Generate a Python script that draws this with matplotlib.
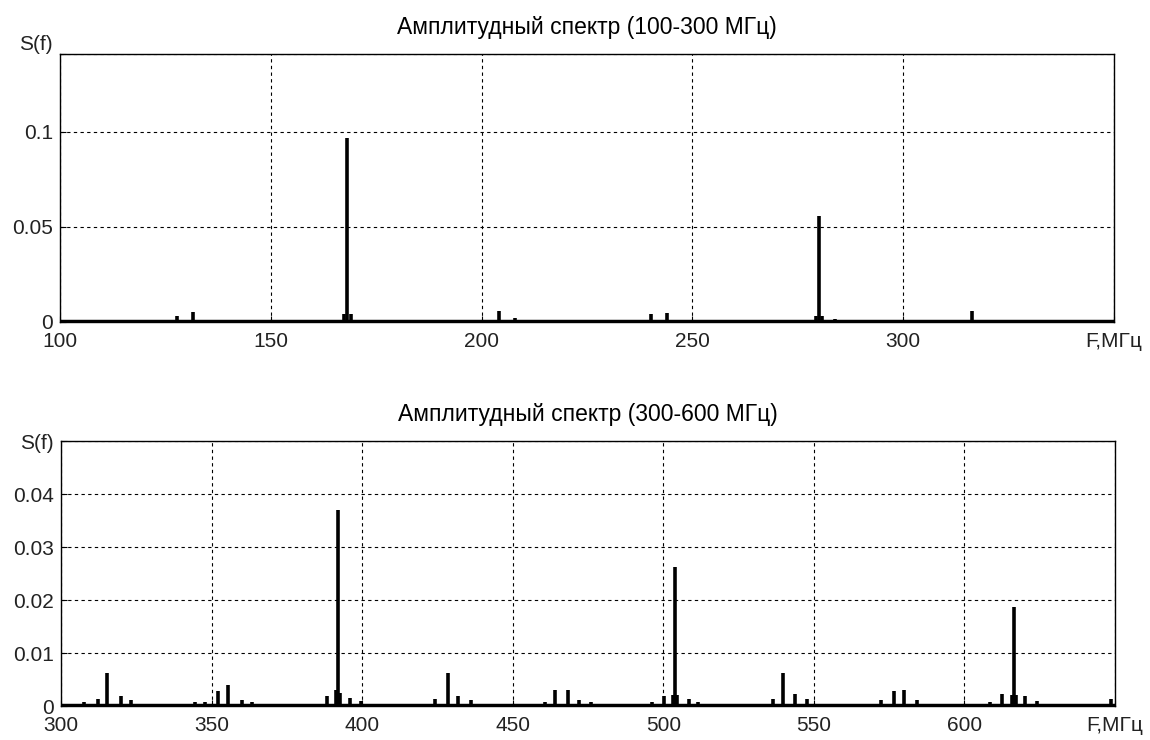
#!/usr/bin/env python3
"""Amplitude spectrum of the signal in two frequency bands."""

import matplotlib
matplotlib.use('Agg')
import matplotlib.pyplot as plt

plt.rcParams['font.family'] = ['Liberation Sans', 'DejaVu Sans']

# Band 1: 100-300 MHz, spectral lines (MHz) and amplitudes
freq_low = [127.8, 131.6, 167.3, 168.1, 168.9, 204.2, 208.0, 211.7,
            240.2, 244.0, 279.4, 280.1, 280.8, 283.9, 316.4]
amp_low = [0.0030, 0.0055, 0.004, 0.097, 0.004, 0.006, 0.002, 0.0012,
           0.0040, 0.0045, 0.003, 0.056, 0.003, 0.0015, 0.006]

# Band 2: 300-600 MHz
freq_high = [307.7, 312.2, 315.4, 319.8, 323.3, 344.5, 347.8, 352.2, 355.6,
             360.0, 363.3, 388.3, 391.4, 392.1, 392.8, 396.0, 399.6,
             424.3, 428.5, 431.8, 436.1, 460.6, 464.1, 468.3, 471.9, 476.0,
             496.2, 500.1, 503.3, 503.9, 504.6, 508.4, 511.7,
             536.3, 539.7, 543.9, 547.7, 572.4, 576.5, 580.1, 584.3,
             608.6, 612.5, 615.8, 616.4, 617.0, 620.3, 624.1, 648.7]
amp_high = [0.0008, 0.0013, 0.0062, 0.0018, 0.0011, 0.0008, 0.0008, 0.0029, 0.0040,
            0.0011, 0.0008, 0.0019, 0.0030, 0.0370, 0.0025, 0.0016, 0.0010,
            0.0014, 0.0062, 0.0018, 0.0011, 0.0008, 0.0031, 0.0031, 0.0011, 0.0008,
            0.0008, 0.0018, 0.0020, 0.0262, 0.0020, 0.0014, 0.0008,
            0.0014, 0.0062, 0.0023, 0.0013, 0.0011, 0.0028, 0.0031, 0.0011,
            0.0008, 0.0023, 0.0020, 0.0187, 0.0020, 0.0018, 0.0010, 0.0014]

panels = [
    dict(title='Амплитудный спектр (100-300 МГц)', freq=freq_low, amp=amp_low,
         xlim=(100, 350), xticks=[100, 150, 200, 250, 300, 350],
         ylim=(0, 0.141), yticks=[0, 0.05, 0.1, 0.141],
         yticklabels=['0', '0.05', '0.1', 'S(f)'],
         rect=[0.0522, 0.5649, 0.9165, 0.3622], top_va='bottom'),
    dict(title='Амплитудный спектр (300-600 МГц)', freq=freq_high, amp=amp_high,
         xlim=(300, 650), xticks=[300, 350, 400, 450, 500, 550, 600, 650],
         ylim=(0, 0.05), yticks=[0, 0.01, 0.02, 0.03, 0.04, 0.05],
         yticklabels=['0', '0.01', '0.02', '0.03', '0.04', 'S(f)'],
         rect=[0.0530, 0.0459, 0.9165, 0.3581], top_va='center_baseline'),
]

fig = plt.figure(figsize=(11.5, 7.4), dpi=100)

for p in panels:
    ax = fig.add_axes(p['rect'])
    ax.vlines(p['freq'], 0, p['amp'], colors='black', linewidth=2.6)
    ax.axhline(0, color='black', linewidth=3.2, zorder=3)

    ax.set_xlim(*p['xlim'])
    ax.set_ylim(*p['ylim'])
    ax.set_xticks(p['xticks'])
    ax.set_xticklabels([str(t) for t in p['xticks'][:-1]] + ['F,МГц'])
    ax.set_yticks(p['yticks'])
    ax.set_yticklabels(p['yticklabels'])
    ax.tick_params(direction='in', length=4, labelsize=15, colors='black',
                   labelcolor='#222222')
    ax.tick_params(axis='x', pad=7.5)
    ax.tick_params(axis='y', pad=5)
    ax.get_yticklabels()[-1].set_va(p['top_va'])

    ax.grid(True, color='black', linestyle=(0, (3, 3)), linewidth=0.8)
    for s in ax.spines.values():
        s.set_linewidth(1.0)
        s.set_color('black')

    ax.set_title(p['title'], fontsize=16.5, pad=14.5)

fig.savefig('out.png', dpi=100)
